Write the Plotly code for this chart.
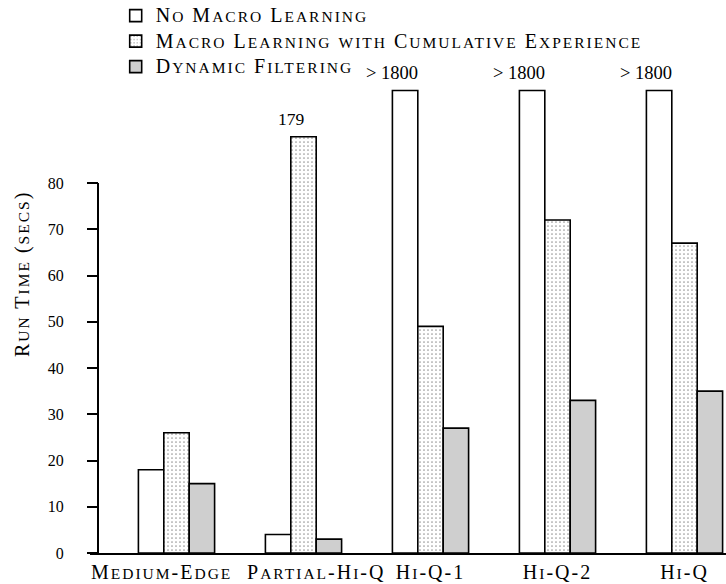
import plotly.graph_objects as go

# ---------------- data ----------------
categories = ["Medium-Edge", "Partial-Hi-Q", "Hi-Q-1", "Hi-Q-2", "Hi-Q"]
series_names = ["No Macro Learning",
                "Macro Learning with Cumulative Experience",
                "Dynamic Filtering"]
# displayed bar heights (bars beyond the scale are drawn clipped and labelled)
no_macro = [18, 4, 100, 100, 100]
macro_cumulative = [26, 90, 49, 72, 67]
dynamic_filtering = [15, 3, 27, 33, 35]
no_macro_labels = ["", "", "> 1800", "> 1800", "> 1800"]
macro_labels = ["", "179", "", "", ""]
y_ticks = [0, 10, 20, 30, 40, 50, 60, 70, 80]
y_title = "Run Time (secs)"

FONT = "Liberation Serif"


def sc(s, big, small, ls):
    """small caps: lowercase letters -> smaller uppercase"""
    out, run, kind = [], "", None

    def flush(r, k):
        if r:
            size = small if k == "s" else big
            out.append(f"<span style='font-size:{size}px;letter-spacing:{ls}px'>{r}</span>")

    for ch in s:
        k = "s" if ch.islower() else "b"
        if k != kind:
            flush(run, kind)
            run, kind = "", k
        run += ch.upper()
    flush(run, kind)
    return "".join(out)


x_idx = list(range(len(categories)))

fig = go.Figure()
fig.add_trace(go.Bar(
    x=x_idx, y=no_macro, name=sc(series_names[0], 20, 15.5, 2.0),
    marker=dict(color="white", line=dict(color="black", width=1.6)),
))
fig.add_trace(go.Bar(
    x=x_idx, y=macro_cumulative, name=sc(series_names[1], 20, 15.5, 2.0),
    marker=dict(color="white", line=dict(color="black", width=1.6),
                pattern=dict(shape=".", fgcolor="#333333", bgcolor="white",
                             size=4, solidity=0.15)),
))
fig.add_trace(go.Bar(
    x=x_idx, y=dynamic_filtering, name=sc(series_names[2], 20, 15.5, 2.0),
    marker=dict(color="#d2d2d2", line=dict(color="black", width=1.6),
                pattern=dict(shape="|", fgcolor="#a8a8a8", bgcolor="#d8d8d8",
                             size=2, solidity=0.4)),
))

bar_w = 0.2
annotations = []
for i, (lab, v) in enumerate(zip(no_macro_labels, no_macro)):
    if lab:
        annotations.append(dict(x=i - bar_w + bar_w / 2, y=v, xref="x", yref="y",
                                text=lab, showarrow=False, xanchor="right",
                                yanchor="middle", yshift=18, xshift=2,
                                font=dict(family=FONT, size=18.5, color="black")))
for i, (lab, v) in enumerate(zip(macro_labels, macro_cumulative)):
    if lab:
        annotations.append(dict(x=i, y=v, xref="x", yref="y",
                                text=lab, showarrow=False, xanchor="center",
                                yanchor="middle", yshift=18, xshift=-12,
                                font=dict(family=FONT, size=17.5, color="black")))
# y-axis title centred on the upper part of the axis
annotations.append(dict(x=0, xref="paper", xshift=-68, y=60.3, yref="y",
                        text=sc(y_title, 20, 15.5, 2), showarrow=False, textangle=-90,
                        xanchor="center", yanchor="middle",
                        font=dict(family=FONT, size=17, color="black")))

tick_text = [sc(c, 20, 15.5, 2) for c in categories]
tick_text[0] = tick_text[0] + "\u00a0" * 7
tick_text[1] = "\u00a0" * 6 + tick_text[1]

plot_left, plot_w = 90, 636
yaxis_pos = (98 - plot_left) / plot_w

fig.update_layout(
    width=726, height=584,
    margin=dict(l=plot_left, r=0, t=60, b=31, autoexpand=False),
    paper_bgcolor="white", plot_bgcolor="white",
    barmode="group", bargap=0.4, bargroupgap=0,
    font=dict(family=FONT, color="black"),
    showlegend=True,
    legend=dict(x=0.0404, y=1.126, xanchor="left", yanchor="top",
                bgcolor="rgba(0,0,0,0)", traceorder="normal",
                font=dict(family=FONT, size=17.3, color="black"),
                tracegroupgap=0),
    xaxis=dict(range=[(plot_left - 176.5) / 127, (726 - 176.5) / 127],
               tickvals=x_idx, ticktext=tick_text, showgrid=False,
               zeroline=False, showline=True, linecolor="black", linewidth=2,
               ticks="", ticklabelstandoff=4, tickangle=0, automargin=False,
               tickfont=dict(family=FONT, size=17, color="black")),
    yaxis=dict(range=[0, (553 - 60) / 4.625], anchor="free", position=yaxis_pos,
               tickvals=y_ticks, showgrid=False, zeroline=False, showline=False,
               ticks="outside", ticklen=11, tickwidth=2, tickcolor="black",
               ticklabelstandoff=20, automargin=False,
               tickfont=dict(family=FONT, size=16, color="black")),
    annotations=annotations,
    shapes=[dict(type="line", xref="paper", yref="y", x0=yaxis_pos, x1=yaxis_pos,
                 y0=0, y1=max(y_ticks), line=dict(color="black", width=2))],
)

fig.write_html("out.html", config={"displayModeBar": False},
               post_script="document.body.style.margin='0';document.body.style.overflow='hidden';")
